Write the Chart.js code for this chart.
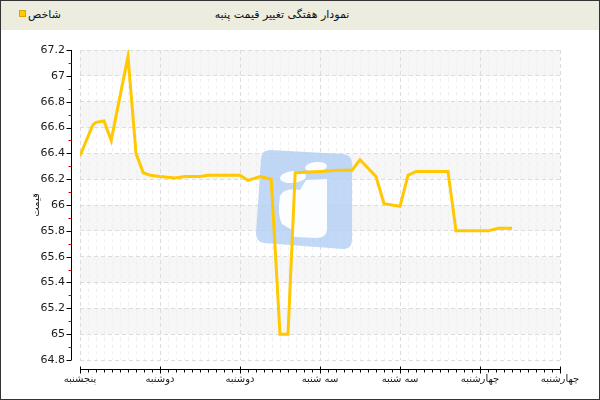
<!DOCTYPE html>
<html>
<head>
<meta charset="utf-8">
<script src="https://cdn.jsdelivr.net/npm/chart.js@4.4.1/dist/chart.umd.min.js"></script>
<style>
  body { margin: 0; background: #fff; }
  #wrap { position: relative; width: 600px; height: 400px; overflow: hidden; }
  #chart { position: absolute; left: 0; top: 0; }
  #frame { position: absolute; left: 0; top: 0; width: 598px; height: 398px; border: 1px solid #333; pointer-events: none; }
  #header { position: absolute; left: 0; top: 0; width: 600px; height: 30px; background: #ececdf;
            font-family: 'DejaVu Sans', sans-serif; font-size: 11px; color: #111; }
  #title { position: absolute; left: 150px; width: 264px; top: 8px; text-align: center; direction: rtl; }
  #legend { position: absolute; left: 19px; top: 8px; }
  #legend .sw { display: inline-block; width: 5px; height: 5px; background: #ffc800; border: 1px solid #e0a400; vertical-align: 1px; }
  #legend .lb { margin-left: 2px; direction: rtl; }
</style>
</head>
<body>
<div id="wrap">
  <canvas id="chart" width="600" height="400"></canvas>
  <div id="header">
    <div id="legend"><span class="sw"></span><span class="lb">شاخص</span></div>
    <div id="title">نمودار هفتگی تغییر قیمت پنبه</div>
  </div>
  <div id="frame"></div>
</div>
<script>
// ---- data ----
const dayLabels = ['پنجشنبه', 'دوشنبه', 'دوشنبه', 'سه شنبه', 'سه شنبه', 'چهارشنبه', 'چهارشنبه'];
const seriesName = 'شاخص';
const yTitle = 'قیمت';

// position along the day axis (0 = first label)
const timePos = [0, 0.16, 0.2, 0.3, 0.39, 0.6, 0.7, 0.79, 0.88, 1.0, 1.19, 1.31, 1.5, 1.6,
    2.0, 2.1, 2.25, 2.39, 2.5, 2.6, 2.69, 3.0, 3.25, 3.4, 3.5, 3.7, 3.8, 4.0, 4.1, 4.2,
    4.6, 4.7, 5.1, 5.23, 5.4];
const prices = [66.38, 66.62, 66.64, 66.65, 66.50, 67.15, 66.40, 66.25, 66.23, 66.22, 66.21, 66.22, 66.22, 66.23,
    66.23, 66.19, 66.22, 66.20, 65.00, 65.00, 66.25, 66.26, 66.27, 66.27, 66.35, 66.22, 66.01, 65.99, 66.23, 66.26,
    66.26, 65.80, 65.80, 65.82, 65.82];

const yMin = 64.8, yMax = 67.2, yStep = 0.2;

Chart.defaults.font.family = "'DejaVu Sans', sans-serif";
Chart.defaults.font.size = 11;
Chart.defaults.color = '#1a1a1a';

// alternating bands + minor vertical grid
const backdropPlugin = {
    id: 'backdrop',
    beforeDraw(chart) {
        const { ctx, chartArea: a, scales: { x, y } } = chart;
        ctx.save();
        ctx.fillStyle = '#f6f6f6';
        const t = y.ticks;
        for (let i = 0; i < t.length - 1; i++) {
            if (i % 2 === 1) {
                const top = y.getPixelForValue(t[i + 1].value);
                const bot = y.getPixelForValue(t[i].value);
                ctx.fillRect(a.left, top, a.right - a.left, bot - top);
            }
        }
        ctx.strokeStyle = '#f0f0f0';
        ctx.lineWidth = 1;
        ctx.setLineDash([4, 3]);
        for (let k = 0; k <= 60; k++) {
            if (k % 10 === 0) continue;
            const px = Math.round(x.getPixelForValue(k / 10)) + 0.5;
            ctx.beginPath();
            ctx.moveTo(px, a.top);
            ctx.lineTo(px, a.bottom);
            ctx.stroke();
        }
        ctx.restore();
    },
    // watermark logo behind the line
    beforeDatasetsDraw(chart) {
        const { ctx } = chart;
        ctx.save();
        ctx.fillStyle = 'rgba(178,206,244,0.8)';
        ctx.beginPath();
        ctx.moveTo(270, 150);
        ctx.lineTo(343, 154);
        ctx.quadraticCurveTo(352, 155, 352, 164);
        ctx.lineTo(352, 240);
        ctx.quadraticCurveTo(352, 249, 343, 249);
        ctx.lineTo(264, 243);
        ctx.quadraticCurveTo(256, 242, 256, 233);
        ctx.lineTo(261, 159);
        ctx.quadraticCurveTo(262, 150, 270, 150);
        ctx.closePath();
        ctx.fill();
        ctx.fillStyle = 'rgba(255,255,255,0.95)';
        ctx.beginPath();
        ctx.ellipse(293, 177, 13, 6, -0.1, 0, Math.PI * 2);
        ctx.fill();
        ctx.beginPath();
        ctx.ellipse(316, 167, 11, 5, -0.1, 0, Math.PI * 2);
        ctx.fill();
        ctx.beginPath();
        ctx.moveTo(306, 180);
        ctx.lineTo(327, 179);
        ctx.lineTo(327, 230);
        ctx.quadraticCurveTo(326, 238, 316, 238);
        ctx.lineTo(296, 237);
        ctx.quadraticCurveTo(290, 236, 292, 230);
        ctx.lineTo(282, 224);
        ctx.quadraticCurveTo(277, 215, 280, 196);
        ctx.quadraticCurveTo(284, 187, 300, 190);
        ctx.closePath();
        ctx.fill();
        ctx.restore();
    },
    // offset axis lines and tick marks
    afterDraw(chart) {
        const { ctx, chartArea: a, scales: { x, y } } = chart;
        const ax = a.left - 9 + 0.5;
        const ay = a.bottom + 9 + 0.5;
        ctx.save();
        ctx.lineWidth = 1;
        ctx.strokeStyle = '#000';
        ctx.beginPath();
        ctx.moveTo(ax, a.top);
        ctx.lineTo(ax, a.bottom);
        ctx.moveTo(a.left, ay);
        ctx.lineTo(a.right, ay);
        y.ticks.forEach(t => {
            const py = Math.round(y.getPixelForValue(t.value)) + 0.5;
            ctx.moveTo(ax - 5, py);
            ctx.lineTo(ax, py);
        });
        x.ticks.forEach(t => {
            const px = Math.round(x.getPixelForValue(t.value)) + 0.5;
            ctx.moveTo(px, ay - 3);
            ctx.lineTo(px, ay + 4);
        });
        for (let k = 0; k <= 60; k++) {
            if (k % 10 === 0) continue;
            const px = Math.round(x.getPixelForValue(k / 10)) + 0.5;
            ctx.moveTo(px, ay);
            ctx.lineTo(px, ay + 3);
        }
        ctx.stroke();
        ctx.strokeStyle = '#e00000';
        ctx.beginPath();
        for (let i = 0; i < y.ticks.length - 1; i++) {
            const mid = (y.ticks[i].value + y.ticks[i + 1].value) / 2;
            const py = Math.round(y.getPixelForValue(mid)) + 0.5;
            ctx.moveTo(ax - 3, py);
            ctx.lineTo(ax, py);
        }
        ctx.stroke();
        ctx.restore();
    }
};

new Chart(document.getElementById('chart'), {
    type: 'line',
    data: {
        datasets: [{
            label: seriesName,
            data: timePos.map((t, i) => ({ x: t, y: prices[i] })),
            borderColor: '#ffc800',
            borderWidth: 3,
            pointRadius: 0,
            tension: 0,
            fill: false
        }]
    },
    options: {
        responsive: false,
        animation: false,
        layout: { padding: { left: 0, right: 40, top: 50, bottom: 0 } },
        plugins: {
            legend: { display: false },
            title: { display: false },
            tooltip: { enabled: false }
        },
        scales: {
            x: {
                type: 'linear',
                min: 0,
                max: dayLabels.length - 1,
                afterFit: (s) => { s.height = 40; },
                grid: { color: '#dcdcdc', drawTicks: false },
                border: { display: false, dash: [4, 3] },
                ticks: {
                    stepSize: 1,
                    autoSkip: false,
                    maxRotation: 0,
                    padding: 13,
                    font: { size: 10 },
                    callback: (v) => dayLabels[v]
                }
            },
            y: {
                min: yMin,
                max: yMax,
                afterFit: (s) => { s.width = 80; },
                grid: { color: '#dcdcdc', drawTicks: false },
                border: { display: false, dash: [4, 3] },
                ticks: {
                    stepSize: yStep,
                    padding: 15,
                    font: { size: 11 },
                    callback: (v) => String(Number(v.toFixed(1)))
                },
                title: {
                    display: true,
                    text: yTitle,
                    font: { size: 10 },
                    padding: { top: 30, bottom: 0 }
                }
            }
        }
    },
    plugins: [backdropPlugin]
});
</script>
</body>
</html>
